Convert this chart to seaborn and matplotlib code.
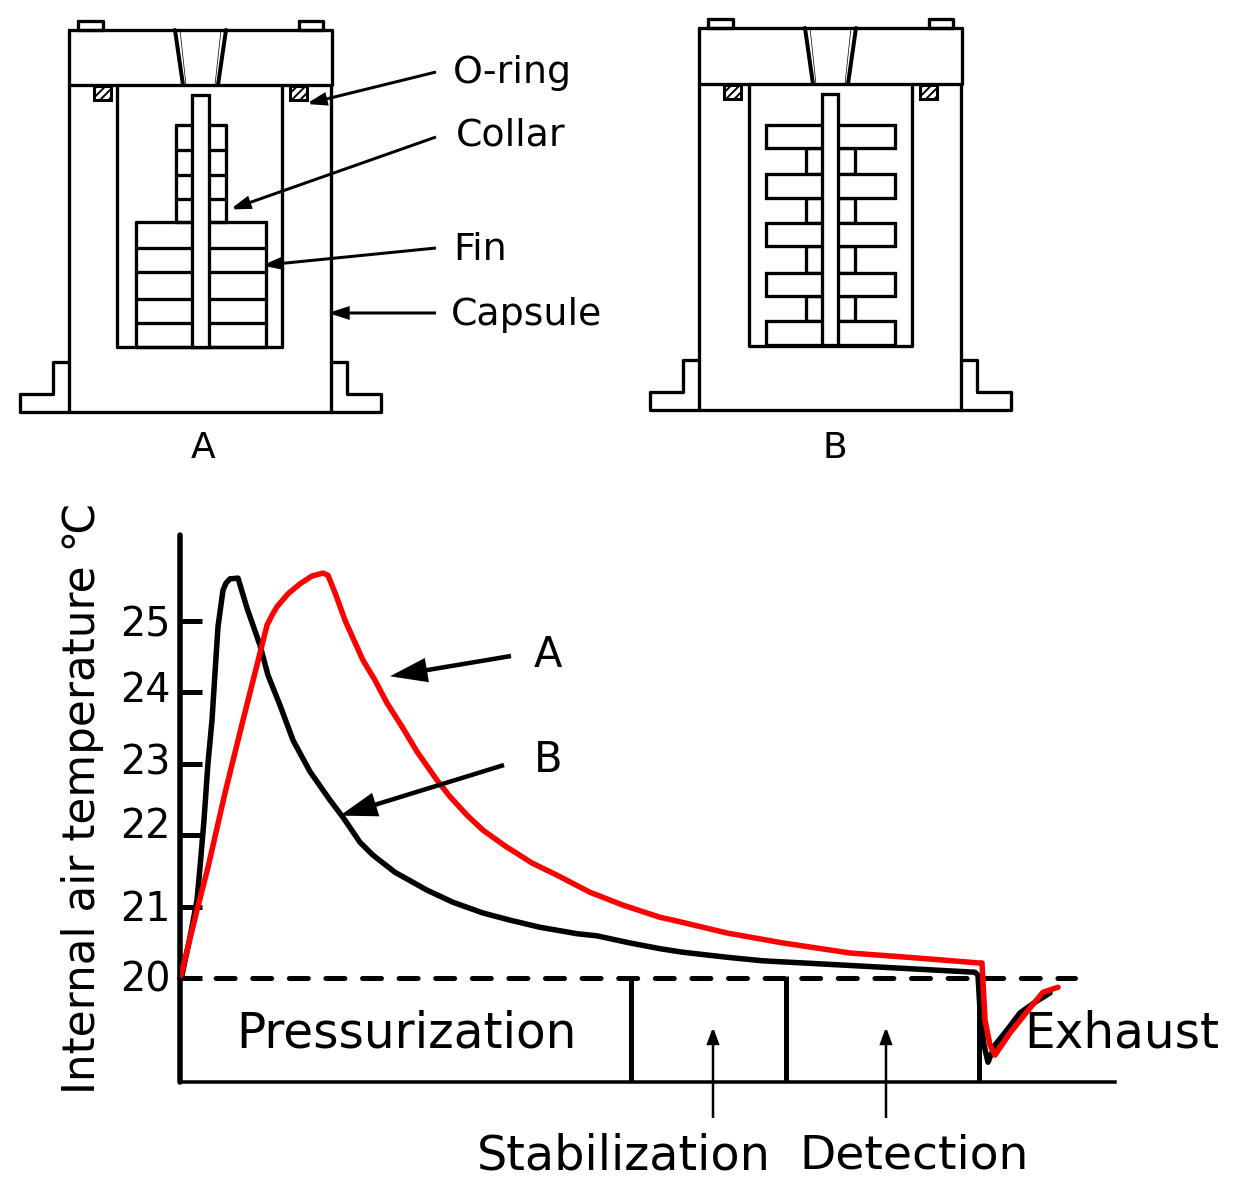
import matplotlib
matplotlib.use("Agg")
import matplotlib.pyplot as plt
import matplotlib.transforms as mtransforms
from matplotlib.patches import FancyArrowPatch, Rectangle
import pandas as pd
import seaborn as sns

# Curve B (black)
time_b = [0.0, 0.2, 1.0, 1.7, 2.0, 2.4, 2.8, 3.2, 3.5, 3.8, 4.3, 4.6, 5.0, 5.8, 6.7, 8.0, 8.8,
          10.0, 11.3, 13.0, 15.0, 16.3, 18.0, 19.3, 21.5, 24.7, 27.3, 30.3, 33.0, 36.0, 39.7,
          41.7, 45.0, 48.0, 50.3, 54.7, 58.3, 63.7, 70.3, 79.5, 79.8, 80.0, 80.4, 80.8, 81.5,
          82.7, 84.0, 85.5, 87.0]
temp_b = [20.02, 20.04, 20.57, 21.09, 21.55, 22.21, 23.01, 23.61, 24.27, 24.92, 25.43, 25.53,
          25.59, 25.60, 25.18, 24.66, 24.24, 23.82, 23.33, 22.89, 22.49, 22.25, 21.90, 21.72,
          21.48, 21.23, 21.06, 20.91, 20.81, 20.71, 20.62, 20.59, 20.49, 20.41, 20.36, 20.29,
          20.24, 20.20, 20.15, 20.08, 20.04, 19.55, 19.06, 18.82, 19.06, 19.27, 19.51, 19.66,
          19.79]

# Curve A (red)
time_a = [0.1, 1.7, 2.8, 4.5, 6.3, 8.0, 8.7, 9.2, 9.7, 10.8, 12.0, 13.2, 14.3, 14.8, 15.6, 16.5,
          17.3, 18.3, 19.5, 20.7, 22.2, 23.7, 25.7, 27.0, 28.7, 30.3, 32.5, 35.2, 37.7, 41.0,
          44.3, 48.0, 49.3, 54.7, 60.3, 67.0, 73.7, 79.9, 80.2, 80.5, 81.0, 81.5, 83.0, 85.0,
          86.3, 87.8]
temp_a = [20.04, 20.95, 21.55, 22.59, 23.61, 24.55, 24.94, 25.08, 25.20, 25.38, 25.52, 25.63,
          25.67, 25.64, 25.36, 25.01, 24.76, 24.45, 24.17, 23.85, 23.52, 23.17, 22.77, 22.54,
          22.28, 22.07, 21.85, 21.61, 21.44, 21.20, 21.02, 20.85, 20.81, 20.63, 20.49, 20.35,
          20.28, 20.21, 20.21, 19.41, 19.06, 18.92, 19.23, 19.58, 19.80, 19.87]

temp_ticks = [20, 21, 22, 23, 24, 25]
tick_label_shift = [2, 1, 13, 5, 6, 0]  # the labels sit a bit off their ticks, in pixels
phase_ends = [45.1, 60.6, 79.9]

# Capsule drawings, in picture pixels
fin_rows_a = [222, 248, 272, 299, 323, 347]
collar_rows_a = [125, 150, 175, 199, 222]
fin_rows_b = [(125, 148), (174, 198), (223, 246), (273, 296), (321, 345)]
collar_rows_b = [(148, 174), (198, 223), (246, 273), (296, 321)]

curves = pd.concat([
    pd.DataFrame({"time": time_b, "temp": temp_b, "capsule": "B"}),
    pd.DataFrame({"time": time_a, "temp": temp_a, "capsule": "A"}),
])

sns.set_theme(style="white")
plt.rcParams["font.family"] = ["DejaVu Sans"]
plt.rcParams["hatch.linewidth"] = 1.4

PX = 0.72  # one pixel in points at dpi 100

fig = plt.figure(figsize=(12.5, 12), dpi=100)

# Chart
ax = fig.add_axes([180 / 1250, (1200 - 1082) / 1200, 935 / 1250, 547 / 1200])
ax.patch.set_alpha(0)
sns.lineplot(data=curves, x="time", y="temp", hue="capsule", hue_order=["B", "A"],
             palette={"A": "#ff0000", "B": "#000000"}, sort=False, estimator=None,
             linewidth=5.5 * PX, legend=False, ax=ax, zorder=3)
ax.set_xlim(0, 93.5)
ax.set_ylim(18.543, 26.204)
sns.despine(ax=ax)
ax.spines["left"].set_linewidth(5.5 * PX)
ax.spines["left"].set_color("black")
ax.spines["left"].set_capstyle("round")
ax.spines["bottom"].set_linewidth(3.5 * PX)
ax.spines["bottom"].set_color("black")
ax.set_xticks([])
ax.set_xlabel("")
ax.set_yticks(temp_ticks)
ax.set_yticklabels([str(t) for t in temp_ticks], fontsize=28.5, color="black")
ax.tick_params(axis="y", left=True, direction="in", length=22 * PX, width=5 * PX,
               color="black", pad=7)
for label, shift in zip(ax.get_yticklabels(), tick_label_shift):
    label.set_transform(label.get_transform() + mtransforms.Affine2D().translate(0, shift))
ax.set_ylabel("Internal air temperature ℃", fontsize=31.5, color="black")
ax.yaxis.set_label_coords(-76 / 935, 284 / 547)

ax.plot([-0.15, 89.5], [20, 20], color="black", linewidth=5 * PX, linestyle=(0, (3.8, 3.52)),
        dash_capstyle="round", clip_on=False, zorder=1)
ax.vlines(phase_ends, 18.543, 20.03, color="black", linewidth=5 * PX, zorder=1)

# Overlay in picture pixels for the drawings and callouts
ov = fig.add_axes([0, 0, 1, 1], zorder=5)
ov.set_xlim(0, 1250)
ov.set_ylim(1200, 0)
ov.axis("off")

STROKE = 3.3


def poly(xs, ys, lw=STROKE):
    ov.plot(xs, ys, color="black", linewidth=lw * PX, solid_joinstyle="round", solid_capstyle="round")


def box(x0, x1, y0, y1):
    poly([x0, x1, x1, x0, x0], [y0, y0, y1, y1, y0])


def arrow(start, end, lw=3, scale=22, hl=0.5, hw=0.16):
    style = f"-|>,head_length={hl},head_width={hw}"
    ov.add_patch(FancyArrowPatch(start, end, arrowstyle=style, mutation_scale=scale,
                                 linewidth=lw * PX, color="black", shrinkA=0, shrinkB=0,
                                 joinstyle="miter", capstyle="butt"))


def capsule_body(dx, top, lid, bottom, cav_left, cav_right, cav_bottom):
    # body, lid and pins
    poly([69 + dx, 69 + dx], [lid, bottom])
    poly([331 + dx, 331 + dx], [lid, bottom])
    poly([69 + dx, 331 + dx], [bottom, bottom])
    box(69 + dx, 332 + dx, top, lid)
    box(78 + dx, 103 + dx, top - 9, top)
    box(299 + dx, 323 + dx, top - 9, top)
    # tapered port
    poly([175 + dx, 183 + dx], [top, lid], lw=4)
    poly([226 + dx, 218 + dx], [top, lid], lw=4)
    poly([180 + dx, 186 + dx], [top, lid], lw=0.7)
    poly([221 + dx, 215 + dx], [top, lid], lw=0.7)
    # cavity
    poly([cav_left, cav_left, cav_right, cav_right], [lid, cav_bottom, cav_bottom, lid])
    # o-rings
    for x0 in (94 + dx, 290 + dx):
        ov.add_patch(Rectangle((x0, lid + 1), 17, 14, facecolor="white", edgecolor="black",
                               hatch="////", linewidth=3 * PX))
    # feet
    poly([69 + dx, 53 + dx, 53 + dx, 20 + dx, 20 + dx, 69 + dx],
         [bottom - 50, bottom - 50, bottom - 18, bottom - 18, bottom, bottom])
    poly([331 + dx, 347 + dx, 347 + dx, 381 + dx, 381 + dx, 331 + dx],
         [bottom - 50, bottom - 50, bottom - 18, bottom - 18, bottom, bottom])


# Capsule A
capsule_body(0, 30, 85, 412, 117, 282, 347)
poly([176, 176], [collar_rows_a[0], collar_rows_a[-1]])
poly([226, 226], [collar_rows_a[0], collar_rows_a[-1]])
for y in collar_rows_a:
    poly([176, 226], [y, y])
poly([136, 136], [fin_rows_a[0], fin_rows_a[-1]])
poly([266, 266], [fin_rows_a[0], fin_rows_a[-1]])
for y in fin_rows_a:
    poly([136, 266], [y, y])
ov.add_patch(Rectangle((192, 95), 17, 252, facecolor="white", edgecolor="black",
                       linewidth=STROKE * PX, zorder=3))

# Capsule B
capsule_body(630, 28, 84, 410, 749, 912, 346)
for y0, y1 in collar_rows_b:
    box(806, 855, y0, y1)
for y0, y1 in fin_rows_b:
    ov.add_patch(Rectangle((766, y0), 129, y1 - y0, facecolor="white", edgecolor="black",
                           linewidth=STROKE * PX, zorder=2.5))
ov.add_patch(Rectangle((822, 94), 16, 251, facecolor="white", edgecolor="black",
                       linewidth=STROKE * PX, zorder=3))

# Part labels
arrow((436, 72), (306, 104))
arrow((436, 137), (230, 209.5))
arrow((436, 248), (262, 265.4))
arrow((436, 313), (328, 313))
for txt, x, y in [("O-ring", 453, 73), ("Collar", 456, 135), ("Fin", 453, 250), ("Capsule", 451, 315)]:
    ov.text(x, y, txt, fontsize=27.3, color="black", ha="left", va="center")
ov.text(203, 448, "A", fontsize=26, color="black", ha="center", va="center")
ov.text(835, 448, "B", fontsize=26, color="black", ha="center", va="center")

# Curve labels
arrow((511, 656), (390, 676.3), lw=4.5, scale=30, hl=0.67, hw=0.22)
arrow((504, 765), (340, 815.6), lw=4.5, scale=30, hl=0.67, hw=0.22)
ov.text(548, 655, "A", fontsize=30, color="black", ha="center", va="center")
ov.text(548, 760, "B", fontsize=30, color="black", ha="center", va="center")

# Phase labels
arrow((713, 1118), (713, 1027), lw=2.5, scale=16, hl=0.6, hw=0.22)
arrow((886, 1118), (886, 1027), lw=2.5, scale=16, hl=0.6, hw=0.22)
ov.text(406, 1033, "Pressurization", fontsize=35, color="black", ha="center", va="center")
ov.text(1122, 1033, "Exhaust", fontsize=35, color="black", ha="center", va="center")
ov.text(624, 1156, "Stabilization", fontsize=34.4, color="black", ha="center", va="center")
ov.text(914, 1156, "Detection", fontsize=34, color="black", ha="center", va="center")

fig.savefig("out.png", dpi=100, facecolor="white")
